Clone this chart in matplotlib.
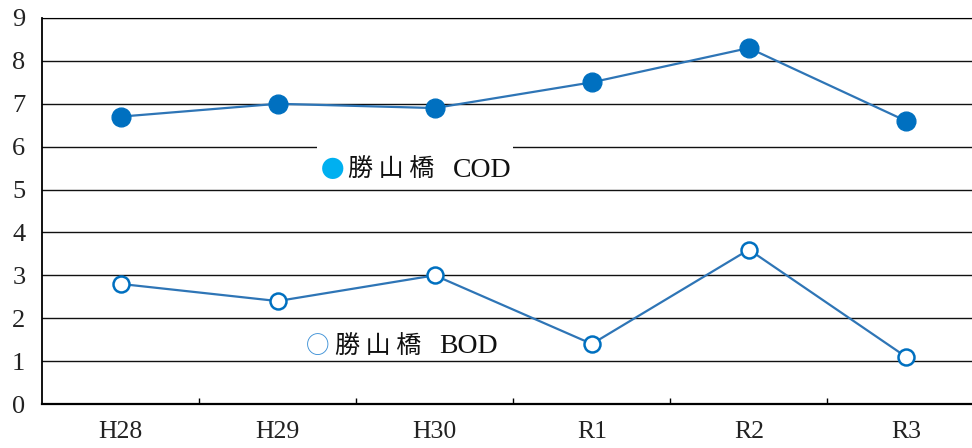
import matplotlib
matplotlib.use("Agg")
import matplotlib.pyplot as plt
from matplotlib.patches import Rectangle
from matplotlib.ticker import FixedLocator

years = ["H28", "H29", "H30", "R1", "R2", "R3"]
cod = [6.7, 7.0, 6.9, 7.5, 8.3, 6.6]
bod = [2.8, 2.4, 3.0, 1.4, 3.6, 1.1]
y_ticks = list(range(0, 10))

line_color = "#2e75b6"
marker_color = "#0070c0"
serif = ["Liberation Serif", "Noto Sans CJK JP"]
cjk = ["Noto Sans CJK JP", "DejaVu Sans"]

fig = plt.figure(figsize=(9.72, 4.48), dpi=100)
ax = fig.add_axes([42 / 972, 44 / 448, 930 / 972, 386 / 448])

x = list(range(len(years)))

ax.plot(x, cod, color=line_color, lw=1.6, marker="o", ms=13.5,
        mfc=marker_color, mec=marker_color, zorder=3)
ax.plot(x, bod, color=line_color, lw=1.6, marker="o", ms=11.5,
        mfc="white", mec=marker_color, mew=1.8, zorder=3)

ax.set_xlim(-0.5, 5.42)
ax.set_ylim(0, 9)
ax.set_xticks(x)
ax.set_xticklabels(years)
ax.xaxis.set_minor_locator(FixedLocator([0.5, 1.5, 2.5, 3.5, 4.5]))
ax.set_yticks(y_ticks)

ax.tick_params(axis="x", which="major", length=0, pad=12, labelsize=18.5)
ax.tick_params(axis="x", which="minor", direction="in", length=4, width=1, color="black")
ax.tick_params(axis="y", length=0, pad=12, labelsize=19)
for lab in ax.get_xticklabels() + ax.get_yticklabels():
    lab.set_fontfamily(serif)
    lab.set_color("#222222")

ax.set_axisbelow(True)
ax.yaxis.grid(True, color="#111111", lw=1.0)
ax.spines["right"].set_visible(False)
ax.spines["top"].set_color("black")
ax.spines["left"].set_linewidth(1.3)
ax.spines["bottom"].set_linewidth(1.6)

# label box hiding the gridline behind the COD caption
ax.add_patch(Rectangle((1.25, 5.05), 1.25, 1.1, facecolor="white",
                       edgecolor="none", zorder=1))

ax.text(1.353, 5.45, "●", color="#00b0f0", fontsize=17,
        family=cjk, ha="center", va="center", zorder=4)
ax.text(1.45, 5.45, "勝 山 橋", color="#111111", fontsize=18,
        family=cjk, ha="left", va="center", zorder=4)
ax.text(2.115, 5.45, "COD", color="#111111", fontsize=20,
        family=serif, ha="left", va="center", zorder=4)

ax.text(1.258, 1.33, "○", color="#3a8fd6", fontsize=17,
        family=cjk, ha="center", va="center", zorder=4)
ax.text(1.366, 1.33, "勝 山 橋", color="#111111", fontsize=18,
        family=cjk, ha="left", va="center", zorder=4)
ax.text(2.03, 1.33, "BOD", color="#111111", fontsize=20,
        family=serif, ha="left", va="center", zorder=4)

fig.savefig("out.png", dpi=100)
plt.close(fig)
